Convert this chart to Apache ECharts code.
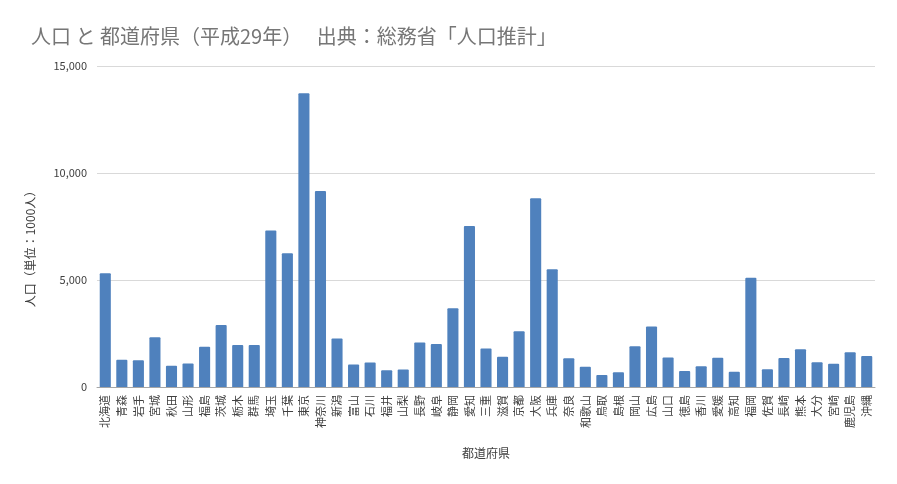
<!DOCTYPE html>
<html>
<head>
<meta charset="utf-8">
<script src="https://cdn.jsdelivr.net/npm/echarts@6/dist/echarts.min.js"></script>
<style>
  html, body { margin: 0; padding: 0; background: #fff; }
  #main { width: 897px; height: 484px; }
</style>
</head>
<body>
<div id="main"></div>
<script>
// 都道府県別人口（単位：1000人）
var prefectures = ['北海道','青森','岩手','宮城','秋田','山形','福島','茨城','栃木','群馬',
  '埼玉','千葉','東京','神奈川','新潟','富山','石川','福井','山梨','長野',
  '岐阜','静岡','愛知','三重','滋賀','京都','大阪','兵庫','奈良','和歌山',
  '鳥取','島根','岡山','広島','山口','徳島','香川','愛媛','高知','福岡',
  '佐賀','長崎','熊本','大分','宮崎','鹿児島','沖縄'];
var population = [5320,1278,1255,2323,996,1102,1882,2892,1957,1960,
  7310,6246,13724,9159,2267,1056,1147,779,823,2076,
  2008,3675,7525,1800,1413,2605,8823,5503,1348,945,
  565,685,1907,2829,1383,743,967,1364,714,5107,
  828,1354,1765,1152,1089,1626,1443];
var yTicks = { min: 0, max: 15000, interval: 5000 };

var FONT = '"Noto Sans CJK JP", "Noto Sans", sans-serif';

var chart = echarts.init(document.getElementById('main'));
chart.setOption({
  animation: false,
  textStyle: { fontFamily: FONT },
  title: {
    text: '人口 と 都道府県（平成29年）　 出典：総務省「人口推計」',
    left: 26,
    top: 21,
    textStyle: { fontFamily: FONT, fontSize: 20, fontWeight: 'normal', color: '#767676' }
  },
  // 縦軸タイトル（位置を合わせるため graphic で描く）
  graphic: [{
    type: 'text',
    x: 30,
    y: 246,
    rotation: Math.PI / 2,
    style: {
      text: '人口（単位：1000人）',
      font: '12px ' + FONT,
      fill: '#404040',
      textAlign: 'center',
      textVerticalAlign: 'middle'
    }
  }],
  grid: { left: 97, right: 22, top: 66, bottom: 97 },
  xAxis: {
    type: 'category',
    data: prefectures,
    name: '都道府県',
    nameLocation: 'middle',
    nameGap: 60,
    nameTextStyle: { fontSize: 12, color: '#404040' },
    axisTick: { show: false },
    axisLine: { lineStyle: { color: '#a6a6a6' } },
    axisLabel: {
      interval: 0,
      rotate: 90,
      margin: 8,
      fontSize: 11,
      color: '#404040'
    }
  },
  yAxis: {
    type: 'value',
    min: yTicks.min,
    max: yTicks.max,
    interval: yTicks.interval,
    axisLine: { show: false },
    axisTick: { show: false },
    splitLine: { lineStyle: { color: '#d9d9d9' } },
    axisLabel: {
      margin: 10,
      fontSize: 11,
      color: '#404040',
      formatter: function (v) { return v.toLocaleString('en-US'); }
    }
  },
  series: [{
    type: 'bar',
    data: population,
    barCategoryGap: '33%',
    itemStyle: { color: '#4f81bd', borderRadius: [1, 1, 0, 0] }
  }]
});
</script>
</body>
</html>
